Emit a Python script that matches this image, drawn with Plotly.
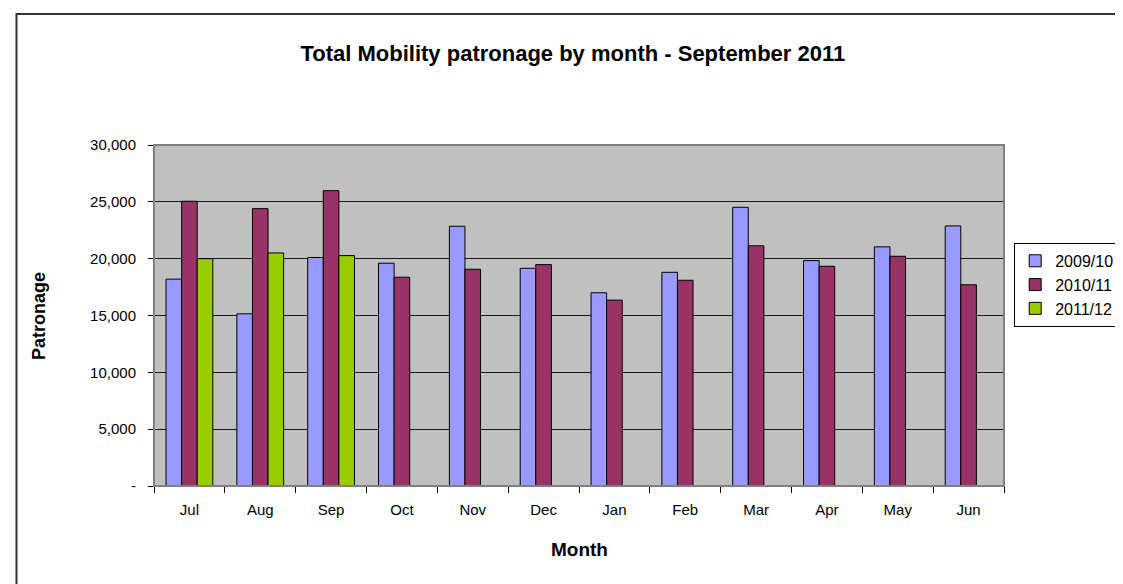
import plotly.graph_objects as go

# data
months = ["Jul", "Aug", "Sep", "Oct", "Nov", "Dec", "Jan", "Feb", "Mar", "Apr", "May", "Jun"]
patronage_2009_10 = [18200, 15150, 20100, 19600, 22850, 19150, 17000, 18800, 24520, 19830, 21040, 22880]
patronage_2010_11 = [25050, 24400, 25980, 18370, 19070, 19480, 16350, 18100, 21130, 19330, 20210, 17700]
patronage_2011_12 = [20000, 20500, 20270, None, None, None, None, None, None, None, None, None]
y_tick_vals = [0, 5000, 10000, 15000, 20000, 25000, 30000]
y_tick_text = ["-", "5,000", "10,000", "15,000", "20,000", "25,000", "30,000"]

FONT = "Liberation Sans, Arial, sans-serif"

fig = go.Figure()

fig.add_trace(go.Bar(x=months, y=patronage_2009_10, name="2009/10",
                     marker=dict(color="#9999FF", line=dict(color="#000000", width=1))))
fig.add_trace(go.Bar(x=months, y=patronage_2010_11, name="2010/11",
                     marker=dict(color="#993366", line=dict(color="#000000", width=1))))
fig.add_trace(go.Bar(x=months, y=patronage_2011_12, name="2011/12",
                     marker=dict(color="#99CC00", line=dict(color="#000000", width=1))))

fig.update_layout(
    width=1123,
    height=584,
    margin=dict(l=146, r=124, t=137, b=106),
    paper_bgcolor="white",
    plot_bgcolor="#C0C0C0",
    barmode="group",
    bargap=0.34,
    bargroupgap=0,
    font=dict(family=FONT, size=15, color="#000000"),
    title=dict(text="<b>Total Mobility patronage by month - September 2011</b>",
               x=0.503, xanchor="center", y=1 - 45 / 584, yanchor="middle",
               font=dict(size=22, family=FONT, color="#000000")),
    legend=dict(x=1.012, xanchor="left", y=0.713, yanchor="top",
                bgcolor="white", bordercolor="#000000", borderwidth=1,
                font=dict(size=16, family=FONT), tracegroupgap=0),
    showlegend=True,
)

fig.update_xaxes(
    type="category",
    showline=True, linecolor="#000000", linewidth=1,
    ticks="outside", tickson="boundaries", ticklen=6, tickcolor="#000000",
    ticklabelstandoff=10,
    showgrid=False,
    tickfont=dict(size=15),
)
fig.update_yaxes(
    range=[0, 30000],
    tickvals=y_tick_vals, ticktext=y_tick_text,
    showline=True, linecolor="#000000", linewidth=1,
    ticks="outside", ticklen=5, tickcolor="#000000",
    ticklabelstandoff=9,
    showgrid=True, gridcolor="#1a1a1a", gridwidth=1,
    zeroline=False,
    tickfont=dict(size=15),
)

# axis titles
fig.add_annotation(text="<b>Month</b>", xref="paper", yref="paper",
                   x=0.5, y=-63 / 341, xanchor="center", yanchor="middle",
                   showarrow=False, font=dict(size=19, family=FONT))
fig.add_annotation(text="<b>Patronage</b>", xref="paper", yref="paper",
                   x=-116 / 853, y=0.5, xanchor="center", yanchor="middle",
                   textangle=-90, showarrow=False, font=dict(size=18, family=FONT))

# plot-area border (gray) and outer chart frame
fig.add_shape(type="rect", xref="paper", yref="paper", x0=0, x1=1, y0=0, y1=1,
              line=dict(color="#808080", width=2), layer="above")
fig.add_shape(type="rect", xref="paper", yref="paper",
              x0=-138 / 853, x1=1.3, y0=-0.5, y1=472 / 341,
              line=dict(color="#333333", width=2), layer="above")

fig.write_html("out.html")
